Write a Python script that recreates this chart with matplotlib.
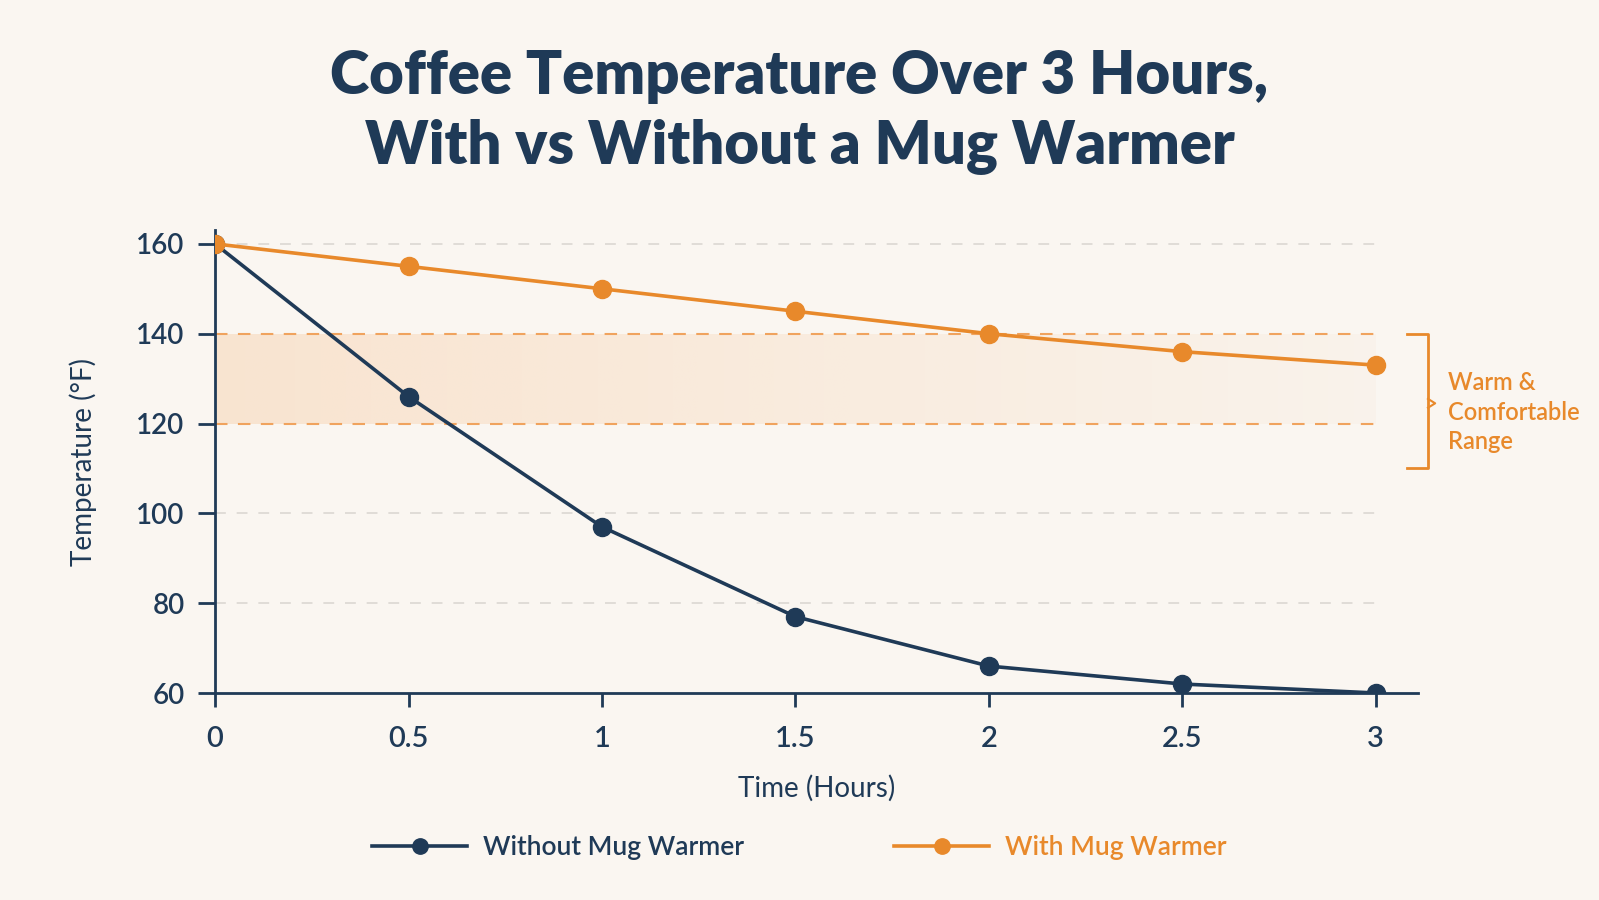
import numpy as np
import matplotlib
matplotlib.use('Agg')
import matplotlib.pyplot as plt
import matplotlib.transforms as mtransforms
from matplotlib.colors import to_rgb

# Donnees
hours = [0, 0.5, 1, 1.5, 2, 2.5, 3]
without_warmer = [160, 126, 97, 77, 66, 62, 60]
with_warmer = [160, 155, 150, 145, 140, 136, 133]
yticks = [60, 80, 100, 120, 140, 160]
comfort_low, comfort_high = 120, 140

navy = '#1F3A57'
orange = '#E8892B'
bg = '#FAF6F1'

plt.rcParams['font.family'] = ['Lato', 'DejaVu Sans']
plt.rcParams['font.weight'] = 'semibold'

fig = plt.figure(figsize=(15.99, 9), dpi=100, facecolor=bg)
ax = fig.add_axes([0.1345, 0.23, 0.7525, 0.514])
ax.set_facecolor(bg)

ax.set_xlim(0, 3.11)
ax.set_ylim(60, 163)

# bande de confort avec degrade
rgb = to_rgb('#F5A45A')
grad = np.zeros((2, 256, 4))
grad[..., :3] = rgb
grad[..., 3] = np.linspace(0.22, 0.04, 256)
ax.imshow(grad, extent=[hours[0], hours[-1], comfort_low, comfort_high],
          aspect='auto', interpolation='bilinear', zorder=0)

# grilles
for y in yticks[1:]:
    if y in (comfort_low, comfort_high):
        ax.plot([hours[0], hours[-1]], [y, y], color='#F0A35E', lw=1.5,
                dashes=(6, 5), zorder=1)
    else:
        ax.plot([hours[0], hours[-1]], [y, y], color='#DEDAD5', lw=1.3,
                dashes=(6, 6), zorder=1)

ax.plot(hours, without_warmer, color=navy, lw=2.6, marker='o', markersize=13,
        label='Without Mug Warmer', zorder=3)
ax.plot(hours, with_warmer, color=orange, lw=2.6, marker='o', markersize=13,
        label='With Mug Warmer', zorder=4)

for s in ['top', 'right']:
    ax.spines[s].set_visible(False)
for s in ['left', 'bottom']:
    ax.spines[s].set_color(navy)
    ax.spines[s].set_linewidth(2)

ax.set_xticks(hours)
ax.set_xticklabels(['0', '0.5', '1', '1.5', '2', '2.5', '3'])
ax.set_yticks(yticks)
ax.tick_params(axis='both', colors=navy, labelsize=20, width=2)
ax.tick_params(axis='x', length=10, pad=14, labelsize=21)
ax.tick_params(axis='y', length=12, pad=10)

ax.set_xlabel('Time (Hours)', fontsize=20, color=navy, labelpad=16)
ax.set_ylabel('Temperature (°F)', fontsize=20, color=navy, labelpad=28)

# accolade pour la zone de confort
trans = mtransforms.blended_transform_factory(ax.transAxes, ax.transData)
bx0, bx1 = 0.991, 1.008
ax.plot([bx0, bx1, bx1, bx0], [comfort_high, comfort_high, 110, 110],
        color=orange, lw=2, transform=trans, clip_on=False)
ax.plot([bx1, bx1 + 0.006, bx1], [125.5, 124.5, 123.5], color=orange, lw=1.5,
        transform=trans, clip_on=False)
ax.text(1.025, 122.5, 'Warm &\nComfortable\nRange', transform=trans,
        color=orange, fontsize=17, va='center', ha='left', linespacing=1.35)

fig.text(0.5, 0.876, 'Coffee Temperature Over 3 Hours,\nWith vs Without a Mug Warmer',
         fontsize=43, fontweight='heavy', color=navy, ha='center', va='center',
         linespacing=1.3)

leg = fig.legend(loc='center', bbox_to_anchor=(0.5, 1 - 848 / 900), ncol=2,
                 frameon=False, fontsize=19, handlelength=3.6,
                 handletextpad=0.6, columnspacing=5.7, markerscale=0.85)
for txt, c in zip(leg.get_texts(), [navy, orange]):
    txt.set_color(c)

fig.savefig('out.png', dpi=100, facecolor=bg)
